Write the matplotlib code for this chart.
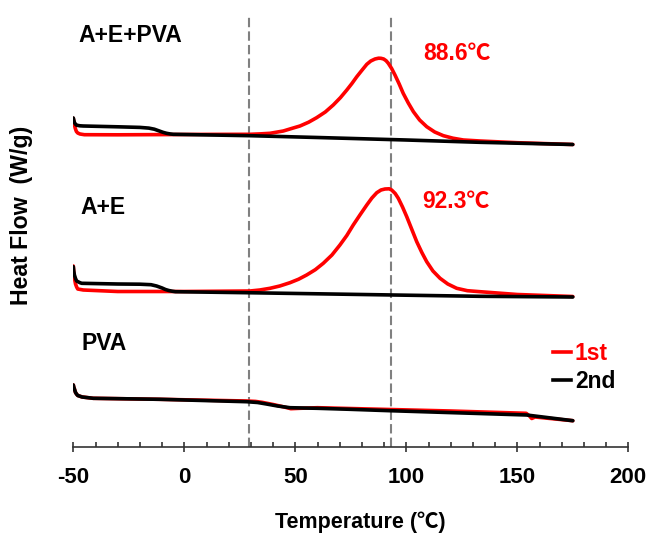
import numpy as np
import matplotlib.pyplot as plt
from matplotlib.lines import Line2D

plt.rcParams['font.family'] = ['Liberation Sans', 'Noto Sans CJK SC', 'DejaVu Sans']
plt.rcParams['font.weight'] = 'bold'
plt.rcParams['axes.unicode_minus'] = False

# DSC traces (heat flow, arbitrary offset units), temperature in degC
# A+E+PVA
t_aep_1 = [-50, -49.8, -49.5, -49.1, -48.6, -48, -47, -45, -30, -10, 0, 10, 29.6, 34, 38.6,
           42, 44.6, 48, 52.1, 56, 59.6, 63.5, 67.1, 70.3, 73.2, 75.5, 77.7, 80, 82.2, 84,
           85.9, 87.5, 88.6, 89.8, 90.9, 91.9, 93.4, 94.9, 96.8, 98.6, 100.9, 103.2, 106,
           109.2, 112.8, 116.7, 121, 125.7, 133.2, 150, 175]
q_aep_1 = [328.7, 326, 322.5, 318.5, 315.5, 314, 313, 312.3, 312.2, 312.4, 312.5, 312.6,
           312.7, 313.1, 313.7, 315, 316, 318.3, 321, 324.8, 329.3, 335, 342, 349.3, 357,
           363.5, 370.3, 376.7, 382.7, 386, 388, 388.8, 388.7, 388, 386.3, 383.7, 378.5,
           372, 363, 353.7, 344, 335.3, 327, 320.3, 315, 311.3, 308.8, 307, 306, 304.3,
           302.5]
t_aep_2 = [-50, -49.8, -49.5, -49, -48.5, -47, -45.5, -30, -20, -16, -13.5, -11.5, -9.5,
           -8, -6.5, -5, 29.6, 60, 100, 133, 175]
q_aep_2 = [329, 327, 324.5, 322.8, 321.8, 321.2, 321, 320.2, 319.6, 318.9, 317.8, 316.2,
           314.6, 313.7, 313.1, 312.7, 311.3, 309.5, 307, 304.7, 302.5]

# A+E
t_ae_1 = [-50, -49.8, -49.5, -49, -48.5, -48, -45.5, -30, 0, 29.6, 34, 38.6, 43, 47.6,
          51.5, 55.1, 59, 62.6, 66.5, 70.1, 73.2, 76.1, 79.2, 82.2, 84.5, 86.7, 88.6, 90.4,
          92.3, 93.4, 95, 96.4, 98.3, 100.2, 102.5, 104.7, 107, 109.2, 112, 115.2, 118.7,
          122.7, 127.5, 133.2, 150, 175]
q_ae_1 = [181, 175, 169, 163, 160, 158, 157, 155.5, 155.5, 156, 157, 158.7, 161, 164.3,
          167.8, 172, 177.3, 183.7, 192, 202, 211.5, 222, 232.3, 242, 249, 254.3, 257, 258,
          258.2, 257, 253.5, 248.7, 240, 230.3, 217.5, 205.3, 194.5, 185.3, 176, 168.7,
          163, 158.7, 156.3, 155.3, 152.5, 150.5]
t_ae_2 = [-50, -49.8, -49.5, -49, -48.5, -47, -46.2, -30, -20, -15, -12.5, -10, -8.5, -7,
          -5.5, -4, 28, 60, 100, 133, 175]
q_ae_2 = [180.3, 176, 172, 168.5, 166, 164.3, 163.7, 163, 162.8, 162.3, 161, 159, 157.5,
          156.5, 155.8, 155.3, 154.3, 153.2, 151.8, 150.7, 150]

# PVA
t_pva_1 = [-50, -49.8, -49.5, -49, -48.5, -48, -46, -41, -11, 28, 32, 35, 40, 45, 48, 52,
           60, 92.6, 120, 154, 155.5, 156.5, 158, 175]
q_pva_1 = [62, 60, 58, 54.5, 52.8, 51.5, 50, 48.7, 47.7, 46, 45.6, 44.7, 42.5, 40, 38.3,
           38.7, 39.3, 37.5, 36, 33.7, 31, 28.5, 30, 26.3]
t_pva_2 = [-50, -49.8, -49.5, -49, -48.5, -48, -46, -41, -11, 28, 33, 37, 42, 47.6, 60,
           74.6, 92.6, 154.2, 175]
q_pva_2 = [62, 60, 58, 54.5, 52.8, 51.5, 50, 48.7, 47.7, 45.3, 44.5, 43, 41, 39.3, 38.7,
           37.7, 36.3, 32, 26.3]

peak_temps = [88.6, 92.3]
ref_lines = [29, 93]

fig = plt.figure(figsize=(6.48, 5.33), dpi=100)
ax = fig.add_axes([73.3 / 648, 86 / 533, 555 / 648, 437 / 533])

for t in ref_lines:
    ax.axvline(t, ymin=0, ymax=433 / 437, color='#808080', lw=1.5, ls=(0, (4.5, 2)), zorder=1)

for t1, q1, t2, q2 in [(t_aep_1, q_aep_1, t_aep_2, q_aep_2),
                       (t_ae_1, q_ae_1, t_ae_2, q_ae_2),
                       (t_pva_1, q_pva_1, t_pva_2, q_pva_2)]:
    ax.plot(t1, q1, color='#ff0000', lw=2.6, solid_capstyle='round',
            solid_joinstyle='round', zorder=2)
    ax.plot(t2, q2, color='black', lw=2.6, solid_capstyle='round',
            solid_joinstyle='round', zorder=3)

ax.set_xlim(-50, 200)
ax.set_ylim(0, 437)

for sp in ['top', 'right', 'left']:
    ax.spines[sp].set_visible(False)
ax.spines['bottom'].set_color('#333333')
ax.spines['bottom'].set_linewidth(1.2)
ax.set_yticks([])
ax.set_xticks(np.arange(-50, 201, 50))
ax.set_xticks(np.arange(-50, 201, 10), minor=True)
ax.tick_params(axis='x', which='major', direction='inout', length=7, width=1.2,
               color='#333333', labelsize=16, pad=11)
ax.tick_params(axis='x', which='minor', direction='in', length=3.5, width=1.2,
               color='#333333')
for lbl in ax.get_xticklabels():
    lbl.set_fontweight('bold')

# sample names
ax.text(-47.9, 412, 'A+E+PVA', fontsize=16.5, fontweight='bold', va='center', ha='left')
ax.text(-46.7, 239, 'A+E', fontsize=16.5, fontweight='bold', va='center', ha='left')
ax.text(-46.2, 103, 'PVA', fontsize=16.5, fontweight='bold', va='center', ha='left')

# crystallization peak labels
ax.text(107.5, 393, f'{peak_temps[0]}℃', fontsize=16.5, fontweight='bold', color='#ff0000',
        va='center', ha='left')
ax.text(107.1, 245, f'{peak_temps[1]}℃', fontsize=16.5, fontweight='bold', color='#ff0000',
        va='center', ha='left')

handles = [Line2D([], [], color='#ff0000', lw=2.6), Line2D([], [], color='black', lw=2.6)]
ax.legend(handles, ['1st', '2nd'], loc='upper left', bbox_to_anchor=(553 / 648, 1 - 342 / 533),
          bbox_transform=fig.transFigure, frameon=False, handlelength=0.8,
          handletextpad=0.15, labelspacing=0.2, borderpad=0, borderaxespad=0,
          labelcolor=['#ff0000', 'black'], prop={'weight': 'bold', 'size': 16.5})

fig.text(22 / 648, 1 - 215 / 533, 'Heat Flow  (W/g)', rotation=90, fontsize=16.7,
         fontweight='bold', ha='center', va='center')
fig.text(360 / 648, 1 - 522 / 533, 'Temperature (℃)', fontsize=15.5, fontweight='bold',
         ha='center', va='center')

fig.savefig('out.png', dpi=100)
